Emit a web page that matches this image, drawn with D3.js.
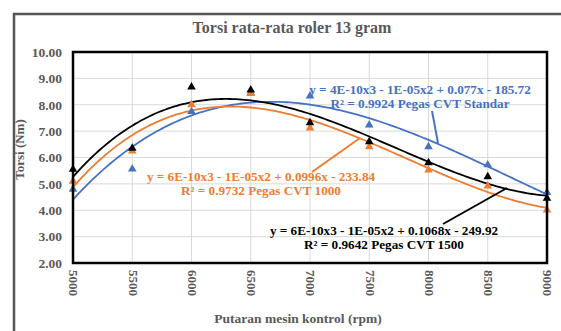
<!DOCTYPE html>
<html>
<head>
<meta charset="utf-8">
<script src="https://cdn.jsdelivr.net/npm/d3@7"></script>
<style>
  body { margin: 0; background: #fff; }
  text { font-family: "Liberation Serif", "Times New Roman", serif; font-weight: bold; }
</style>
</head>
<body>
<div id="chart"></div>
<script>

// data
const rpm = [5000, 5500, 6000, 6500, 7000, 7500, 8000, 8500, 9000];
const cvtStandar = [4.80, 5.56, 7.74, 8.45, 8.33, 7.23, 6.41, 5.72, 4.67];
const cvt1000    = [5.10, 6.25, 8.00, 8.43, 7.12, 6.41, 5.53, 4.92, 4.01];
const cvt1500    = [5.55, 6.35, 8.67, 8.56, 7.32, 6.60, 5.80, 5.27, 4.45];

const yTicks = [2, 3, 4, 5, 6, 7, 8, 9, 10];
const xTicks = [5000, 5500, 6000, 6500, 7000, 7500, 8000, 8500, 9000];

const series = [
  { name: "Standar", values: cvtStandar, color: "#4472C4",
    eq: ["y = 4E-10x3 - 1E-05x2 + 0.077x - 185.72", "R² = 0.9924 Pegas CVT Standar"] },
  { name: "1000", values: cvt1000, color: "#ED7D31",
    eq: ["y = 6E-10x3 - 1E-05x2 + 0.0996x - 233.84", "R² = 0.9732 Pegas CVT 1000"] },
  { name: "1500", values: cvt1500, color: "#000000",
    eq: ["y = 6E-10x3 - 1E-05x2 + 0.1068x - 249.92", "R² = 0.9642 Pegas CVT 1500"] }
];

const W = 561, H = 331;
const margin = { top: 52, right: 14, bottom: 68, left: 73 };
const width = W - margin.left - margin.right;
const height = H - margin.top - margin.bottom;

const svg = d3.select("#chart").append("svg")
  .attr("width", W)
  .attr("height", H);

// outer chart frame
svg.append("rect")
  .attr("x", 14).attr("y", 14)
  .attr("width", W).attr("height", H)
  .attr("fill", "none")
  .attr("stroke", "#555")
  .attr("stroke-width", 2.5);

svg.append("text")
  .attr("x", 292).attr("y", 33)
  .attr("text-anchor", "middle")
  .attr("fill", "#595959")
  .style("font-size", "16px")
  .text("Torsi rata-rata roler 13 gram");

const g = svg.append("g")
  .attr("transform", "translate(" + margin.left + "," + margin.top + ")");

const x = d3.scaleLinear().domain([5000, 9000]).range([0, width]);
const y = d3.scaleLinear().domain([2, 10]).range([height, 0]);

// grid
g.append("g")
  .selectAll("line.h")
  .data(yTicks)
  .join("line")
  .attr("x1", 0).attr("x2", width)
  .attr("y1", d => y(d)).attr("y2", d => y(d))
  .attr("stroke", "#d9d9d9").attr("stroke-width", 1);

g.append("g")
  .selectAll("line.v")
  .data(xTicks)
  .join("line")
  .attr("y1", 0).attr("y2", height)
  .attr("x1", d => x(d)).attr("x2", d => x(d))
  .attr("stroke", "#d9d9d9").attr("stroke-width", 1);

// y axis labels
const yAxis = g.append("g")
  .call(d3.axisLeft(y).tickValues(yTicks).tickFormat(d3.format(".2f")).tickSize(0).tickPadding(11));
yAxis.select(".domain").remove();
yAxis.selectAll("text")
  .attr("fill", "#595959")
  .style("font-size", "13.5px");

// x axis labels, rotated
const xAxis = g.append("g")
  .attr("transform", "translate(0," + height + ")")
  .call(d3.axisBottom(x).tickValues(xTicks).tickFormat(d => d).tickSize(0));
xAxis.select(".domain").remove();
xAxis.selectAll("text")
  .attr("fill", "#595959")
  .style("font-size", "13px")
  .attr("transform", "rotate(90)")
  .attr("text-anchor", "start")
  .attr("x", 7).attr("y", 0).attr("dy", "0.32em");

svg.append("text")
  .attr("transform", "translate(24," + (margin.top + height / 2 - 8) + ") rotate(-90)")
  .attr("text-anchor", "middle")
  .attr("fill", "#595959")
  .style("font-size", "13px")
  .text("Torsi (Nm)");

svg.append("text")
  .attr("x", 298).attr("y", 323)
  .attr("text-anchor", "middle")
  .attr("fill", "#595959")
  .style("font-size", "13.5px")
  .text("Putaran mesin kontrol (rpm)");

// cubic least squares trendline (like the spreadsheet trendline)
function polyFit(xs, ys, deg) {
  const n = deg + 1;
  const A = [];
  for (let i = 0; i < n; i++) {
    A.push(new Array(n + 1).fill(0));
  }
  xs.forEach((xv, k) => {
    const t = (xv - 7000) / 1000;
    for (let i = 0; i < n; i++) {
      for (let j = 0; j < n; j++) A[i][j] += Math.pow(t, i + j);
      A[i][n] += Math.pow(t, i) * ys[k];
    }
  });
  for (let i = 0; i < n; i++) {
    let p = i;
    for (let r = i + 1; r < n; r++) if (Math.abs(A[r][i]) > Math.abs(A[p][i])) p = r;
    [A[i], A[p]] = [A[p], A[i]];
    for (let r = 0; r < n; r++) {
      if (r === i) continue;
      const f = A[r][i] / A[i][i];
      for (let c = i; c <= n; c++) A[r][c] -= f * A[i][c];
    }
  }
  const coef = A.map((row, i) => row[n] / row[i]);
  return xv => {
    const t = (xv - 7000) / 1000;
    return coef.reduce((s, c, i) => s + c * Math.pow(t, i), 0);
  };
}

const line = d3.line()
  .x(d => x(d[0]))
  .y(d => y(d[1]));

const tri = d3.symbol().type(d3.symbolTriangle).size(32);

series.forEach(s => {
  const f = polyFit(rpm, s.values, 3);
  const pts = d3.range(5000, 9001, 25).map(v => [v, f(v)]);
  g.append("path")
    .datum(pts)
    .attr("fill", "none")
    .attr("stroke", s.color)
    .attr("stroke-width", 1.8)
    .attr("d", line);
});

series.forEach(s => {
  g.append("g")
    .selectAll("path")
    .data(rpm.map((r, i) => [r, s.values[i]]))
    .join("path")
    .attr("d", tri)
    .attr("transform", d => "translate(" + x(d[0]) + "," + y(d[1]) + ")")
    .attr("fill", s.color);
});

// plot frame
g.append("rect")
  .attr("width", width).attr("height", height)
  .attr("fill", "none")
  .attr("stroke", "#000")
  .attr("stroke-width", 2.5);

// trendline labels with leader lines
const labels = [
  { s: series[0], cx: 420, cy: 90, lead: [[432, 111], [438, 143]] },
  { s: series[1], cx: 261, cy: 177, lead: [[312, 172], [360, 138]] },
  { s: series[2], cx: 384, cy: 231, lead: [[443, 224], [507, 188]] }
];

labels.forEach(l => {
  svg.append("line")
    .attr("x1", l.lead[0][0]).attr("y1", l.lead[0][1])
    .attr("x2", l.lead[1][0]).attr("y2", l.lead[1][1])
    .attr("stroke", l.s.color)
    .attr("stroke-width", 2);
  const t = svg.append("text")
    .attr("text-anchor", "middle")
    .attr("fill", l.s.color)
    .style("font-size", "13.2px");
  l.s.eq.forEach((str, i) => {
    t.append("tspan")
      .attr("x", l.cx)
      .attr("y", l.cy + 4 + i * 14)
      .text(str);
  });
});

</script>
</body>
</html>
